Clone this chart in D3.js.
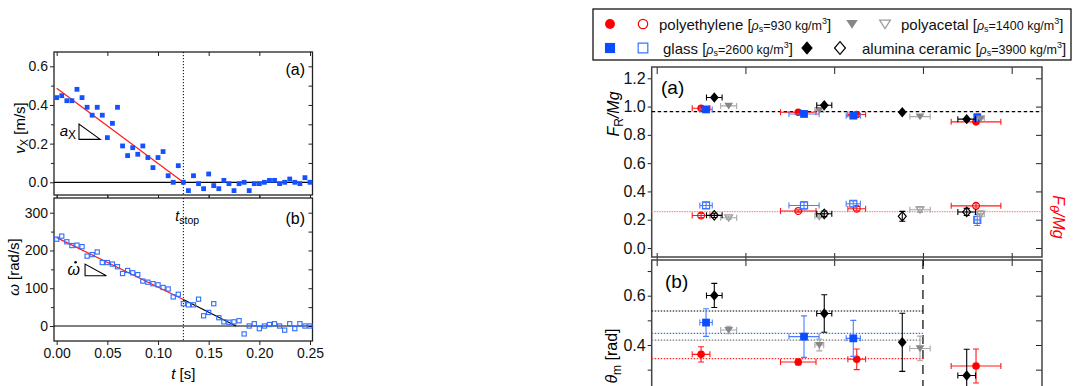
<!DOCTYPE html>
<html>
<head>
<meta charset="utf-8">
<script src="https://cdn.jsdelivr.net/npm/d3@7"></script>
<style>
  body { margin: 0; background: #fff; }
  svg { display: block; font-family: "Liberation Sans", Arial, sans-serif; }
</style>
</head>
<body>
<div id="chart"></div>
<script>
// ---------- left figure: stopping of one particle ----------
const tSec = [0.000, 0.005, 0.010, 0.015, 0.020, 0.025, 0.030, 0.035, 0.040, 0.045,
  0.050, 0.055, 0.060, 0.065, 0.070, 0.075, 0.080, 0.085, 0.090, 0.095,
  0.100, 0.105, 0.110, 0.115, 0.120, 0.125, 0.130, 0.135, 0.140, 0.145,
  0.150, 0.155, 0.160, 0.165, 0.170, 0.175, 0.180, 0.185, 0.190, 0.195,
  0.200, 0.205, 0.210, 0.215, 0.220, 0.225, 0.230, 0.235, 0.240, 0.245, 0.250];
const vX = [0.438, 0.448, 0.422, 0.422, 0.481, 0.438, 0.388, 0.347, 0.388, 0.347,
  0.231, 0.305, 0.388, 0.188, 0.138, 0.179, 0.145, 0.188, 0.128, 0.076,
  0.128, 0.159, 0.034, 0.000, 0.086, 0.000, -0.043, 0.034, -0.007, -0.033,
  0.043, -0.017, -0.033, 0.010, -0.007, -0.043, -0.007, 0.000, -0.043, -0.007,
  -0.007, 0.000, 0.010, 0.010, -0.007, 0.000, 0.017, 0.000, -0.007, 0.024, 0.000];
const omega = [230, 238, 223, 213, 214, 210, 185, 189, 196, 168,
  168, 164, 157, 139, 147, 141, 136, 119, 116, 112,
  109, 102, 98, 77, 84, 59, 56, 56, 71, 27,
  36, 59, 22, 11, 10, 11, 14, -21, 0, 6,
  -7, 0, 4, 6, 0, -11, 6, -7, 6, 0, 0];
const vxFit = [[0, 0.487], [0.125, 0]];
const omegaFit = [[0, 234], [0.125, 70]];
const omegaAfter = [[0.125, 70], [0.177, 0]];
const tStop = 0.125;
const axSlope = [[0.022, 0.301], [0.022, 0.222], [0.043, 0.222]];
const omSlope = [[0.028, 164], [0.028, 133], [0.049, 133]];

// ---------- right figure: four materials, five cases ----------
const materials = ['polyethylene', 'glass', 'polyacetal', 'alumina ceramic'];
const pePos = [0.50, 1.595, 2.254, 3.598];
const peXErr = [0.10, 0.20, 0.10, 0.28];
const peFR = [0.988, 0.960, 0.944, 0.892];
const peFTh = [0.230, 0.262, 0.278, 0.298];
const peFThErr = [0.015, 0.008, 0.015, 0.015];
const peTheta = [0.362, 0.331, 0.342, 0.315];
const peThetaErr = [0.031, 0.012, 0.042, 0.069];

const glPos = [0.556, 1.660, 2.215, 3.612];
const glXErr = [0.07, 0.17, 0.08, 0.03];
const glFR = [0.980, 0.948, 0.936, 0.925];
const glFTh = [0.301, 0.301, 0.313, 0.199];
const glFThErr = [0.022, 0.025, 0.02, 0.04];
const glTheta = [0.491, 0.434, 0.427, null];
const glThetaErr = [0.056, 0.084, 0.073, null];

const paPos = [0.811, 1.832, 2.967, 3.651];
const paXErr = [0.09, 0.05, 0.115, 0.04];
const paFR = [1.005, 0.976, 0.929, 0.915];
const paFTh = [0.214, 0.224, 0.271, 0.241];
const paFThErr = [0.01, 0.01, 0.02, 0.02];
const paTheta = [0.461, 0.400, 0.386, null];
const paThetaErr = [0.015, 0.024, 0.05, null];

const alPos = [0.649, 1.888, 2.767, 3.493];
const alXErr = [0.088, 0.085, 0, 0.10];
const alFR = [1.064, 1.009, 0.960, 0.911];
const alFTh = [0.231, 0.242, 0.224, 0.255];
const alFThErr = [0.015, 0.02, 0.035, 0.025];
const alTheta = [0.601, 0.528, 0.411, 0.276];
const alThetaErr = [0.049, 0.076, 0.118, 0.107];

const frMean = 0.965;
const fthMean = 0.257;
const thetaMean = [0.345, 0.447, 0.420, 0.538]; // same order as materials
const thetaCut = 3;

const densities = ['930', '2600', '1400', '3900'];

// ---------- drawing ----------
const svg = d3.select('#chart').append('svg').attr('width', 1073).attr('height', 386);

const shapes = {
    circle: (r) => `M${-r},0A${r},${r} 0 1,0 ${r},0A${r},${r} 0 1,0 ${-r},0Z`,
    square: (r) => `M${-r},${-r}H${r}V${r}H${-r}Z`,
    diamond: (r) => `M0,${-r}L${r * 0.85},0L0,${r}L${-r * 0.85},0Z`,
    triangle: (r) => `M${-r},${-r * 0.7}H${r}L0,${r * 0.85}Z`,
};

function tickAxis(g, axis, tx, ty, fontSize) {
    const a = g.append('g').attr('transform', `translate(${tx},${ty})`).call(axis);
    a.attr('font-family', null).attr('font-size', null);
    a.select('.domain').remove();
    a.selectAll('.tick line').attr('stroke', '#222').attr('stroke-width', 1);
    a.selectAll('.tick text').style('font-size', (fontSize || 14) + 'px').attr('fill', '#111');
    return a;
}

function frame(g, x0, y0, x1, y1, color, w) {
    g.append('rect')
        .attr('x', x0).attr('y', y0)
        .attr('width', x1 - x0).attr('height', y1 - y0)
        .attr('fill', 'none').attr('stroke', color).attr('stroke-width', w);
}

// ===== left figure =====
const left = svg.append('g');
const xL = d3.scaleLinear().domain([0, 0.25]).range([56.7, 310]);
const yVx = d3.scaleLinear().domain([0, 0.6]).range([182.3, 66.3]);
const yOm = d3.scaleLinear().domain([0, 300]).range([326, 212.7]);
const LX0 = 54, LX1 = 312.5;
const A = { top: 52, bottom: 195 };
const B = { top: 198, bottom: 341 };
const tTicks = [0, 0.05, 0.1, 0.15, 0.2, 0.25];

// panel (a) ticks
tickAxis(left, d3.axisLeft(yVx).tickValues([0, 0.2, 0.4, 0.6]).tickSize(4).tickPadding(2).tickFormat(d3.format('.1f')), LX0, 0);
tickAxis(left, d3.axisLeft(yVx).tickValues([0.1, 0.3, 0.5]).tickSize(3).tickFormat(''), LX0, 0);
tickAxis(left, d3.axisLeft(yVx).tickValues([0, 0.1, 0.2, 0.3, 0.4, 0.5, 0.6]).tickSize(4).tickFormat(''), LX1, 0);
tickAxis(left, d3.axisBottom(xL).tickValues(tTicks).tickSize(4).tickFormat(''), 0, A.top);
tickAxis(left, d3.axisBottom(xL).tickValues(tTicks).tickSize(3).tickFormat(''), 0, A.bottom);
// panel (b) ticks
tickAxis(left, d3.axisLeft(yOm).tickValues([0, 100, 200, 300]).tickSize(4).tickPadding(2), LX0, 0);
tickAxis(left, d3.axisLeft(yOm).tickValues([50, 150, 250]).tickSize(3).tickFormat(''), LX0, 0);
tickAxis(left, d3.axisLeft(yOm).tickValues([0, 50, 100, 150, 200, 250, 300]).tickSize(4).tickFormat(''), LX1, 0);
tickAxis(left, d3.axisTop(xL).tickValues(tTicks).tickSize(3).tickFormat(''), 0, B.top);
tickAxis(left, d3.axisBottom(xL).tickValues(tTicks).tickSize(4).tickPadding(3).tickFormat(d3.format('.2f')), 0, B.bottom);

frame(left, LX0, A.top, LX1, A.bottom, '#222', 1.3);
frame(left, LX0, B.top, LX1, B.bottom, '#222', 1.3);

// zero lines and t_stop
left.append('line').attr('x1', LX0).attr('x2', LX1).attr('y1', yVx(0)).attr('y2', yVx(0)).attr('stroke', '#000').attr('stroke-width', 1.2);
left.append('line').attr('x1', LX0).attr('x2', LX1).attr('y1', yOm(0)).attr('y2', yOm(0)).attr('stroke', '#000').attr('stroke-width', 1.2);
[A, B].forEach((p) => {
    left.append('line').attr('x1', xL(tStop)).attr('x2', xL(tStop))
        .attr('y1', p.top).attr('y2', p.bottom)
        .attr('stroke', '#000').attr('stroke-width', 1).attr('stroke-dasharray', '1.2,1.8');
});

// fit lines
const lineVx = d3.line().x((d) => xL(d[0])).y((d) => yVx(d[1]));
const lineOm = d3.line().x((d) => xL(d[0])).y((d) => yOm(d[1]));
left.append('path').attr('d', lineVx(vxFit)).attr('stroke', '#ff1a1a').attr('stroke-width', 1.2).attr('fill', 'none');
left.append('path').attr('d', lineOm(omegaFit)).attr('stroke', '#ff1a1a').attr('stroke-width', 1.2).attr('fill', 'none');
left.append('path').attr('d', lineOm(omegaAfter)).attr('stroke', '#000').attr('stroke-width', 1.2).attr('fill', 'none');

// slope triangles
left.append('path').attr('d', lineVx(axSlope) + 'Z').attr('fill', 'none').attr('stroke', '#000').attr('stroke-width', 1.1);
left.append('path').attr('d', lineOm(omSlope) + 'Z').attr('fill', 'none').attr('stroke', '#000').attr('stroke-width', 1.1);
left.append('text').attr('x', xL(axSlope[0][0]) - 3).attr('y', yVx(axSlope[1][1]) - 3)
    .attr('text-anchor', 'end').style('font-size', '15px')
    .call((t) => {
        t.append('tspan').style('font-style', 'italic').text('a');
        t.append('tspan').attr('dy', 3).style('font-size', '12px').text('X');
    });
const omX = xL(omSlope[0][0]) - 5, omY = yOm(omSlope[1][1]) - 1;
left.append('text').attr('x', omX).attr('y', omY)
    .attr('text-anchor', 'end').style('font-size', '16px').style('font-style', 'italic')
    .text('ω');
left.append('circle').attr('cx', omX - 4.5).attr('cy', omY - 12.5).attr('r', 1.3).attr('fill', '#000');

// data points
left.selectAll('.vx').data(tSec).enter().append('rect')
    .attr('x', (d) => xL(d) - 2.4).attr('y', (d, i) => yVx(vX[i]) - 2.4)
    .attr('width', 4.8).attr('height', 4.8).attr('fill', '#1552ff');
left.selectAll('.om').data(tSec).enter().append('rect')
    .attr('x', (d) => xL(d) - 2.1).attr('y', (d, i) => yOm(omega[i]) - 2.1)
    .attr('width', 4.2).attr('height', 4.2).attr('fill', 'none')
    .attr('stroke', '#2f6bff').attr('stroke-width', 1.1);

// labels
left.append('text').attr('x', 305).attr('y', 75).attr('text-anchor', 'end').style('font-size', '16px').text('(a)');
left.append('text').attr('x', 305).attr('y', 224).attr('text-anchor', 'end').style('font-size', '16px').text('(b)');
left.append('text').attr('x', xL(tStop) - 8).attr('y', 221).style('font-size', '14px')
    .call((t) => {
        t.append('tspan').style('font-style', 'italic').text('t');
        t.append('tspan').attr('dy', 3).style('font-size', '10.5px').text('stop');
    });
left.append('text').attr('transform', 'translate(25,128) rotate(-90)').attr('text-anchor', 'middle').style('font-size', '15px')
    .call((t) => {
        t.append('tspan').style('font-style', 'italic').text('v');
        t.append('tspan').attr('dy', 3).style('font-size', '11px').text('X');
        t.append('tspan').attr('dy', -3).text(' [m/s]');
    });
left.append('text').attr('transform', 'translate(19,267) rotate(-90)').attr('text-anchor', 'middle').style('font-size', '15px')
    .call((t) => {
        t.append('tspan').style('font-style', 'italic').text('ω');
        t.append('tspan').text(' [rad/s]');
    });
left.append('text').attr('x', (LX0 + LX1) / 2).attr('y', 379).attr('text-anchor', 'middle').style('font-size', '15px')
    .call((t) => {
        t.append('tspan').style('font-style', 'italic').text('t');
        t.append('tspan').text(' [s]');
    });

// ===== right figure =====
const right = svg.append('g');
const xR = d3.scaleLinear().domain([0, 4]).range([656.7, 1011.7]);
const yF = d3.scaleLinear().domain([0, 1.2]).range([248, 78.3]);
const yT = d3.scaleLinear().domain([0.2, 0.6]).range([394.3, 295.7]);
const RX0 = 651.7, RX1 = 1042;
const RA = { top: 67, bottom: 257 };
const RB = { top: 260, bottom: 430 };
const caseTicks = [0, 1, 2, 3, 4];

// panel (a) ticks
tickAxis(right, d3.axisLeft(yF).tickValues(d3.range(0, 1.21, 0.2)).tickSize(4).tickPadding(2).tickFormat(d3.format('.1f')), RX0, 0, 16);
tickAxis(right, d3.axisLeft(yF).tickValues(d3.range(0, 1.21, 0.2)).tickSize(6).tickFormat(''), RX1, 0);
tickAxis(right, d3.axisBottom(xR).tickValues(caseTicks).tickSize(7).tickFormat(''), 0, RA.top);
tickAxis(right, d3.axisTop(xR).tickValues(caseTicks).tickSize(4).tickFormat(''), 0, RA.bottom);
tickAxis(right, d3.axisBottom(xR).tickValues(caseTicks).tickSize(3).tickFormat(''), 0, RA.bottom);
// panel (b) ticks
tickAxis(right, d3.axisLeft(yT).tickValues([0.4, 0.6]).tickSize(4).tickPadding(2).tickFormat(d3.format('.1f')), RX0, 0, 16);
tickAxis(right, d3.axisLeft(yT).tickValues([0.3, 0.5, 0.7]).tickSize(4).tickFormat(''), RX0, 0);
tickAxis(right, d3.axisLeft(yT).tickValues([0.3, 0.4, 0.5, 0.6, 0.7]).tickSize(6).tickFormat(''), RX1, 0);
tickAxis(right, d3.axisBottom(xR).tickValues(caseTicks).tickSize(6).tickFormat(''), 0, RB.top);

frame(right, RX0, RA.top, RX1, RA.bottom, '#444', 1.5);
frame(right, RX0, RB.top, RX1, RB.bottom, '#444', 1.5);

// reference lines
right.append('line').attr('x1', RX0).attr('x2', RX1).attr('y1', yF(frMean)).attr('y2', yF(frMean))
    .attr('stroke', '#000').attr('stroke-width', 1.2).attr('stroke-dasharray', '3.5,2.5');
right.append('line').attr('x1', RX0).attr('x2', RX1).attr('y1', yF(fthMean)).attr('y2', yF(fthMean))
    .attr('stroke', '#ff8a8a').attr('stroke-width', 1.3).attr('stroke-dasharray', '1.5,1');
right.append('line').attr('x1', xR(thetaCut)).attr('x2', xR(thetaCut)).attr('y1', RB.top).attr('y2', RB.bottom)
    .attr('stroke', '#000').attr('stroke-width', 1.2).attr('stroke-dasharray', '9,6');

const style = {
    polyethylene: { shape: 'circle', r: 3.8, fill: '#ff0000', err: '#ff1a1a', open: '#ff0000', line: '#ff2a2a' },
    glass: { shape: 'square', r: 3.9, fill: '#0b4cff', err: '#4a7dff', open: '#3a72ff', line: '#3a6dff' },
    polyacetal: { shape: 'triangle', r: 4.4, fill: '#878787', err: '#a8a8a8', open: '#9a9a9a', line: '#777' },
    'alumina ceramic': { shape: 'diamond', r: 5.2, fill: '#000', err: '#000', open: '#000', line: '#000' },
};

const series = [
    { name: 'polyethylene', pos: pePos, xErr: peXErr, fr: peFR, fth: peFTh, fthErr: peFThErr, theta: peTheta, thetaErr: peThetaErr },
    { name: 'glass', pos: glPos, xErr: glXErr, fr: glFR, fth: glFTh, fthErr: glFThErr, theta: glTheta, thetaErr: glThetaErr },
    { name: 'polyacetal', pos: paPos, xErr: paXErr, fr: paFR, fth: paFTh, fthErr: paFThErr, theta: paTheta, thetaErr: paThetaErr },
    { name: 'alumina ceramic', pos: alPos, xErr: alXErr, fr: alFR, fth: alFTh, fthErr: alFThErr, theta: alTheta, thetaErr: alThetaErr },
];

// theta mean lines (drawn below the points)
series.forEach((s, i) => {
    right.append('line').attr('x1', RX0).attr('x2', xR(thetaCut))
        .attr('y1', yT(thetaMean[i])).attr('y2', yT(thetaMean[i]))
        .attr('stroke', style[s.name].line).attr('stroke-width', 1.2).attr('stroke-dasharray', '1.5,1.5');
});

function errPoint(g, y, px, xe, py, ye, st, filled) {
    const cx = xR(px), cy = y(py), cap = 3;
    const e = g.append('g').attr('stroke', st.err).attr('stroke-width', 1.1).attr('fill', 'none');
    if (xe > 0) {
        const xa = xR(px - xe), xb = xR(px + xe);
        e.append('path').attr('d', `M${xa},${cy}H${xb}M${xa},${cy - cap}V${cy + cap}M${xb},${cy - cap}V${cy + cap}`);
    }
    if (ye > 0) {
        const ya = y(py - ye), yb = y(py + ye);
        e.append('path').attr('d', `M${cx},${ya}V${yb}M${cx - cap},${ya}H${cx + cap}M${cx - cap},${yb}H${cx + cap}`);
    }
    const m = g.append('path').attr('d', shapes[st.shape](filled ? st.r : st.r * 0.9))
        .attr('transform', `translate(${cx},${cy})`);
    if (filled) m.attr('fill', st.fill);
    else m.attr('fill', 'none').attr('stroke', st.open).attr('stroke-width', 1.2);
}

series.forEach((s) => {
    const st = style[s.name];
    const g = right.append('g');
    s.pos.forEach((p, k) => {
        errPoint(g, yF, p, s.xErr[k], s.fth[k], s.fthErr[k], st, false);
    });
});
series.forEach((s) => {
    const st = style[s.name];
    const g = right.append('g');
    s.pos.forEach((p, k) => {
        errPoint(g, yF, p, s.xErr[k], s.fr[k], 0, st, true);
    });
});
series.forEach((s) => {
    const st = style[s.name];
    const g = right.append('g');
    s.pos.forEach((p, k) => {
        if (s.theta[k] === null) return;
        errPoint(g, yT, p, s.xErr[k], s.theta[k], s.thetaErr[k], st, true);
    });
});

// panel labels
right.append('text').attr('x', 661).attr('y', 94).style('font-size', '19px').text('(a)');
right.append('text').attr('x', 665).attr('y', 288).style('font-size', '19px').text('(b)');
right.append('text').attr('transform', 'translate(619,114) rotate(-90)').attr('text-anchor', 'middle').style('font-size', '16px')
    .call((t) => {
        t.append('tspan').style('font-style', 'italic').text('F');
        t.append('tspan').attr('dy', 4).style('font-size', '12px').text('R');
        t.append('tspan').attr('dy', -4).style('font-style', 'italic').text('/Mg');
    });
right.append('text').attr('transform', 'translate(1053,217) rotate(90)').attr('text-anchor', 'middle')
    .style('font-size', '16px').attr('fill', '#ff0000')
    .call((t) => {
        t.append('tspan').style('font-style', 'italic').text('F');
        t.append('tspan').attr('dy', 3).style('font-size', '13px').style('font-style', 'italic').text('θ');
        t.append('tspan').attr('dy', -3).style('font-style', 'italic').text('/Mg');
    });
right.append('text').attr('transform', 'translate(617,356) rotate(-90)').attr('text-anchor', 'middle').style('font-size', '16px')
    .call((t) => {
        t.append('tspan').style('font-style', 'italic').text('θ');
        t.append('tspan').attr('dy', 4).style('font-size', '12px').text('m');
        t.append('tspan').attr('dy', -4).text(' [rad]');
    });

// ===== legend =====
const leg = svg.append('g');
leg.append('rect').attr('x', 593).attr('y', 9).attr('width', 478).attr('height', 51)
    .attr('fill', '#fff').attr('stroke', '#000').attr('stroke-width', 1.2);
const legPos = {
    polyethylene: { x: 610, y: 24, tx: 659 },
    polyacetal: { x: 852, y: 24, tx: 901 },
    glass: { x: 610, y: 48, tx: 663 },
    'alumina ceramic': { x: 807, y: 48, tx: 862 },
};
materials.forEach((name, i) => {
    const st = style[name], p = legPos[name];
    const rr = st.r * 1.3;
    leg.append('path').attr('d', shapes[st.shape](rr)).attr('transform', `translate(${p.x},${p.y})`).attr('fill', st.fill);
    leg.append('path').attr('d', shapes[st.shape](rr * 0.95)).attr('transform', `translate(${p.x + 33},${p.y})`)
        .attr('fill', 'none').attr('stroke', st.open).attr('stroke-width', 1.2);
    const t = leg.append('text').attr('x', p.tx).attr('y', p.y + 5.5).style('font-size', '15px').attr('fill', '#111');
    t.append('tspan').text(name + ' ');
    t.append('tspan').style('font-size', '15px').text('[');
    t.append('tspan').style('font-size', '12.5px').style('font-style', 'italic').text('ρ');
    t.append('tspan').attr('dy', 2.5).style('font-size', '9px').text('s');
    t.append('tspan').attr('dy', -2.5).style('font-size', '12.5px').text('=' + densities[i] + ' kg/m');
    t.append('tspan').attr('dy', -6).style('font-size', '9px').text('3');
    t.append('tspan').attr('dy', 6).style('font-size', '15px').text(']');
});
</script>
</body>
</html>
